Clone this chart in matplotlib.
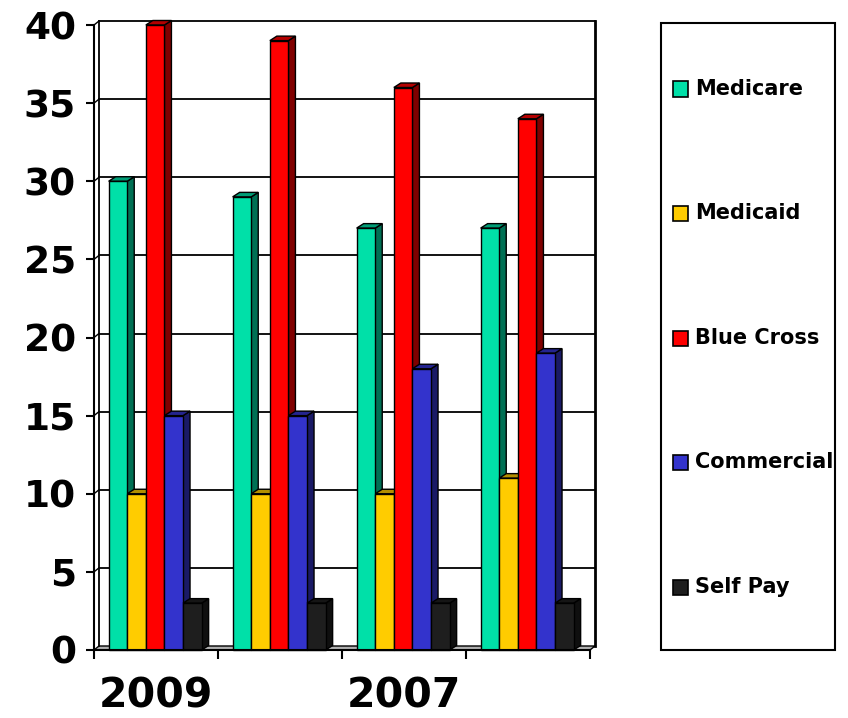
import numpy as np
import matplotlib.pyplot as plt
from matplotlib.patches import Polygon, Rectangle
from matplotlib.colors import to_rgb

years = ['2009', '2008', '2007', '2006']
payers = ['Medicare', 'Medicaid', 'Blue Cross', 'Commercial', 'Self Pay']
medicare = [30, 29, 27, 27]
medicaid = [10, 10, 10, 11]
blue_cross = [40, 39, 36, 34]
commercial = [15, 15, 18, 19]
self_pay = [3, 3, 3, 3]
series = [medicare, medicaid, blue_cross, commercial, self_pay]
colors = ['#00E0A8', '#FFCC00', '#FF0000', '#3333CC', '#1E1E1E']

W, H = 848, 718
fig = plt.figure(figsize=(W / 100, H / 100), dpi=100)

# front plane of the plot box, in pixels
x0, x1, ytop, ybot = 94, 590, 25, 650
ax = fig.add_axes([x0 / W, 1 - ybot / H, (x1 - x0) / W, (ybot - ytop) / H])
ax.set_xlim(0, len(years))
ax.set_ylim(0, 40)

pxx = (x1 - x0) / len(years)
pxy = (ybot - ytop) / 40.0
wdx, wdy = 5 / pxx, 4 / pxy      # back wall offset
bdx, bdy = 7 / pxx, 4.5 / pxy    # bar depth
bw = 0.15
start = 0.118


def shade(c, f):
    r, g, b = to_rgb(c)
    return (r * f, g * f, b * f)


# floor
n = len(years)
ax.add_patch(Polygon([(0, 0), (n, 0), (n + wdx, wdy), (wdx, wdy)], closed=True,
                     facecolor='#b0b0b0', edgecolor='black', lw=1, clip_on=False, zorder=1))

# back wall grid and left wall
for v in range(5, 45, 5):
    ax.plot([wdx, n + wdx], [v + wdy, v + wdy], color='black', lw=1.3, clip_on=False, zorder=2)
    ax.plot([0, wdx], [v, v + wdy], color='black', lw=1, clip_on=False, zorder=2)
ax.plot([wdx, wdx], [wdy, 40 + wdy], color='black', lw=1.3, clip_on=False, zorder=2)
ax.plot([n + wdx, n + wdx], [wdy, 40 + wdy], color='black', lw=2, clip_on=False, zorder=2)

# bars
for j, vals in enumerate(series):
    left = np.arange(n) + start + j * bw
    for x, v in zip(left, vals):
        ax.add_patch(Polygon([(x + bw, 0), (x + bw + bdx, bdy), (x + bw + bdx, v + bdy), (x + bw, v)],
                             closed=True, facecolor=shade(colors[j], 0.5), edgecolor='black',
                             lw=1, clip_on=False, zorder=10 + 2 * j))
        ax.add_patch(Polygon([(x, v), (x + bdx, v + bdy), (x + bw + bdx, v + bdy), (x + bw, v)],
                             closed=True, facecolor=shade(colors[j], 0.7), edgecolor='black',
                             lw=1, clip_on=False, zorder=10 + 2 * j))
    ax.bar(left, vals, width=bw, align='edge', color=colors[j], edgecolor='black',
           lw=1, zorder=11 + 2 * j, clip_on=False)

for s in ['top', 'right']:
    ax.spines[s].set_visible(False)
for s in ['left', 'bottom']:
    ax.spines[s].set_linewidth(1.5)
    ax.spines[s].set_zorder(30)

ax.set_yticks(range(0, 45, 5))
ax.set_yticklabels([str(v) for v in range(0, 45, 5)], fontsize=27, fontweight='bold')
ax.set_xticks(range(n + 1))
ax.set_xticklabels([])
ax.set_xticks(np.arange(n)[::2] + 0.5, minor=True)
ax.set_xticklabels(years[::2], minor=True, fontsize=29.5, fontweight='bold')
ax.tick_params(axis='y', direction='out', length=6, width=1.5, pad=7)
ax.tick_params(axis='x', which='major', direction='out', length=6.5, width=1.5)
ax.tick_params(axis='x', which='minor', length=0, pad=19)

# legend box
lx0, lx1, ly0, ly1 = 661, 835, 23, 650
fig.patches.append(Rectangle((lx0 / W, 1 - ly1 / H), (lx1 - lx0) / W, (ly1 - ly0) / H,
                             transform=fig.transFigure, facecolor='white',
                             edgecolor='black', lw=1.5))
for k, name in enumerate(payers):
    yc = 89 + k * 124.5
    fig.patches.append(Rectangle((673 / W, 1 - (yc + 7.5) / H), 15 / W, 15 / H,
                                 transform=fig.transFigure, facecolor=colors[k],
                                 edgecolor='black', lw=1.2))
    fig.text(695 / W, 1 - yc / H, name, fontsize=15, fontweight='bold', va='center', ha='left')

fig.savefig('out.png', dpi=100)
